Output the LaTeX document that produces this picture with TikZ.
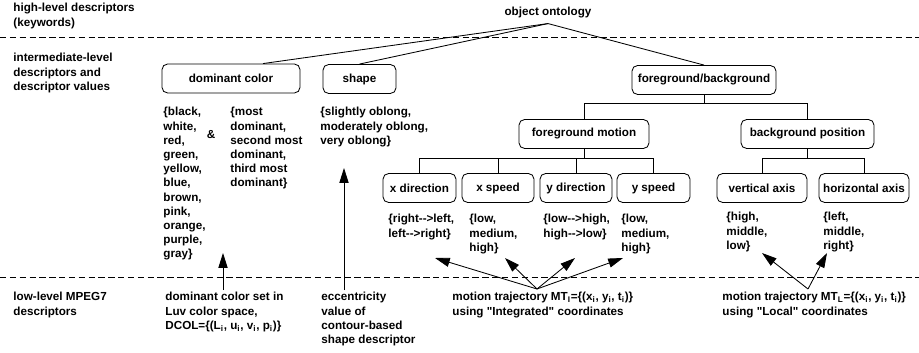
\documentclass[tikz,border=0pt]{standalone}
\usepackage{fontspec}
\setmainfont{Liberation Sans}[Ligatures=TeXOff]
\usetikzlibrary{arrows.meta}
\newcommand{\ra}{-\kern0pt-\kern0pt>}

\begin{document}
\begin{tikzpicture}[x=0.025cm, y=-0.025cm, line width=0.6pt,
    every node/.style={font=\fontsize{8.3}{10.1}\selectfont\bfseries},
    descbox/.style={draw, rounded corners=4pt, minimum height=0.725cm, inner sep=0pt},
    vals/.style={anchor=north west, align=left, inner sep=0pt},
    level/.style={dash pattern=on 4.5pt off 2.5pt},
    pointer/.style={-{Triangle[length=10.5pt, width=6.5pt]}}]
    \useasboundingbox (0,0) rectangle (919,353);
    % Level separators
    \draw[level] (0,37) -- (919,37);
    \draw[level] (0,277) -- (919,277);
    % Level names
    \node[vals] (hilev) at (13,3) {high-level descriptors\\(keywords)};
    \node[vals] (midlev) at (13,53) {intermediate-level\\descriptors and\\descriptor values};
    \node[vals] (lowlev) at (13,292) {low-level MPEG7\\descriptors};
    % Ontology root
    \node (onto) at (548,13) {object ontology};
    % Descriptor boxes
    \node[descbox, minimum width=3.45cm] (domcol) at (231,78.5) {dominant color};
    \node[descbox, minimum width=1.825cm] (shape) at (359.5,79) {shape};
    \node[descbox, minimum width=3.6cm] (fgbg) at (704,80) {foreground/background};
    \node[descbox, minimum width=3.25cm] (fgmot) at (584,134) {foreground motion};
    \node[descbox, minimum width=3.325cm] (bgpos) at (807.5,134) {background position};
    \node[descbox, minimum width=1.825cm] (xdir) at (419.5,188) {x direction};
    \node[descbox, minimum width=1.8cm] (xspd) at (498,188) {x speed};
    \node[descbox, minimum width=1.8cm] (ydir) at (576,188) {y direction};
    \node[descbox, minimum width=1.825cm] (yspd) at (653.5,188) {y speed};
    \node[descbox, minimum width=2.25cm] (vert) at (762,188) {vertical axis};
    \node[descbox, minimum width=2.25cm] (horiz) at (864,188) {horizontal axis};
    % Tree links
    \draw (onto.south) -- ([xshift=0.8cm]domcol.north);
    \draw (onto.south) -- (shape.north);
    \draw (onto.south) -- (fgbg.north);
    \draw (fgbg.south) -- ++(0,8) -| (fgmot.north);
    \draw (fgbg.south) ++(0,8) -| (bgpos.north);
    \foreach \c in {xdir,xspd,ydir,yspd}
        \draw (fgmot.south) -- ++(0,9) -| (\c.north);
    \foreach \c in {vert,horiz}
        \draw (bgpos.south) -- ++(0,9) -| (\c.north);
    % Descriptor values
    \node[vals] (colval) at (163,107) {\{black,\\white,\\red,\\green,\\yellow,\\blue,\\brown,\\pink,\\orange,\\purple,\\gray\}};
    \node (amp) at (211,135) {\&};
    \node[vals] (rankval) at (230,107) {\{most\\dominant,\\second most\\dominant,\\third most\\dominant\}};
    \node[vals] (shapeval) at (320,107) {\{slightly oblong,\\moderately oblong,\\very oblong\}};
    \node[vals] (xdirval) at (388,214) {\{right\ra left,\\left\ra right\}};
    \node[vals] (xspdval) at (469,214) {\{low,\\medium,\\high\}};
    \node[vals] (ydirval) at (543,214) {\{low\ra high,\\high\ra low\}};
    \node[vals] (yspdval) at (621,214) {\{low,\\medium,\\high\}};
    \node[vals] (vertval) at (726,212) {\{high,\\middle,\\low\}};
    \node[vals] (horizval) at (823,212) {\{left,\\middle,\\right\}};
    % Low-level descriptors
    \node[vals] (lowdcol) at (165,292) {dominant color set in\\Luv color space,\\DCOL=\{(L\textsubscript{i}, u\textsubscript{i}, v\textsubscript{i}, p\textsubscript{i})\}};
    \node[vals] (lowecc) at (321,292) {eccentricity\\value of\\contour-based\\shape descriptor};
    \node[vals] (lowmti) at (452,292) {motion trajectory MT\textsubscript{I}=\{(x\textsubscript{i}, y\textsubscript{i}, t\textsubscript{i})\}\\using "Integrated" coordinates};
    \node[vals] (lowmtl) at (722,292) {motion trajectory MT\textsubscript{L}=\{(x\textsubscript{i}, y\textsubscript{i}, t\textsubscript{i})\}\\using "Local" coordinates};
    % Mapping arrows
    \coordinate (dcolsrc) at (223,290);
    \coordinate (dcoltip) at (223,253);
    \coordinate (eccsrc) at (344,290);
    \coordinate (ecctip) at (344,168);
    \coordinate (mtisrc) at (537,289);
    \coordinate (mtlsrc) at (808,289);
    \draw[pointer] (dcolsrc) -- (dcoltip);
    \draw[pointer] (eccsrc) -- (ecctip);
    \foreach \t in {(435,258),(505,258),(575,258),(623,258)}
        \draw[pointer] (mtisrc) -- \t;
    \foreach \t in {(762,253),(827,253)}
        \draw[pointer] (mtlsrc) -- \t;
\end{tikzpicture}
\end{document}
